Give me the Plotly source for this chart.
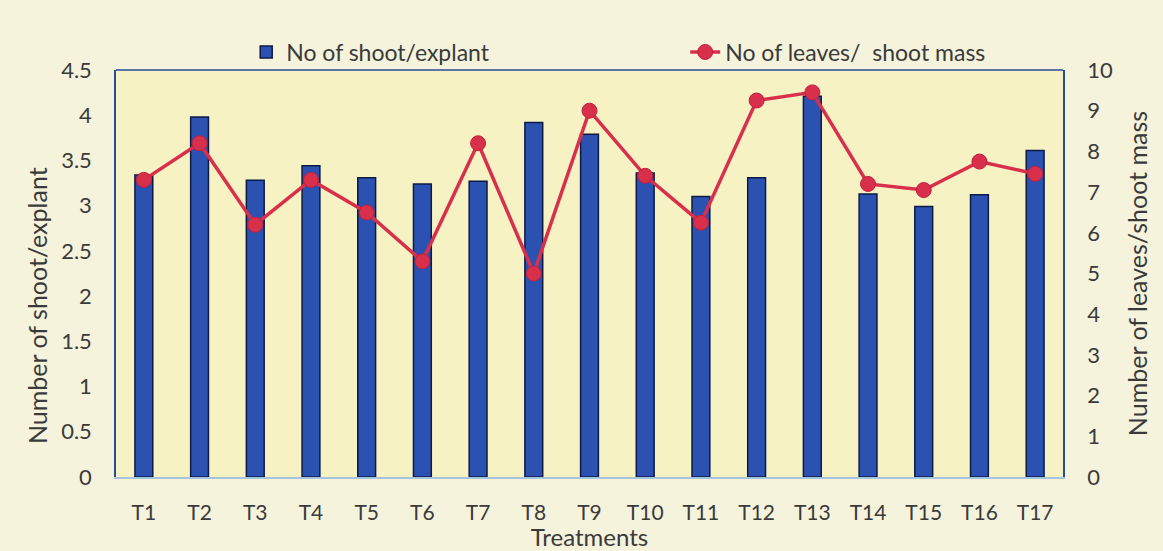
import plotly.graph_objects as go

treatments = ["T1","T2","T3","T4","T5","T6","T7","T8","T9","T10","T11","T12","T13","T14","T15","T16","T17"]
shoots_per_explant = [3.34,3.98,3.28,3.44,3.31,3.24,3.27,3.92,3.79,3.36,3.10,3.31,4.21,3.13,2.99,3.12,3.61]
leaves_per_shoot_mass = [7.3,8.2,6.2,7.3,6.5,5.3,8.2,5.0,9.0,7.4,6.25,9.25,9.45,7.2,7.05,7.75,7.45]
left_ticks = [0,0.5,1,1.5,2,2.5,3,3.5,4,4.5]
left_labels = ["0","0.5","1","1.5","2","2.5","3","3.5","4","4.5"]
right_ticks = list(range(0, 11))

FONT = "Lato"
TXT = "#3a3a3a"

fig = go.Figure()
fig.add_trace(go.Bar(
    x=treatments, y=shoots_per_explant, name="No of shoot/explant",
    marker=dict(color="#2b52b0", line=dict(color="#0d1a45", width=1.5)),
    width=0.32, yaxis="y",
))
fig.add_trace(go.Scatter(
    x=treatments, y=leaves_per_shoot_mass, name="No of leaves/  shoot mass",
    mode="lines+markers", yaxis="y2",
    line=dict(color="#d8304a", width=3.5),
    marker=dict(color="#d8304a", size=15, line=dict(color="#c02040", width=1)),
))

fig.update_layout(
    width=1163, height=551,
    margin=dict(l=116, r=100, t=70, b=74, autoexpand=False),
    paper_bgcolor="#f5f3dc",
    plot_bgcolor="#f7f2c4",
    font=dict(family=FONT, size=21, color=TXT),
    showlegend=True,
    legend=dict(orientation="h", xref="container", yref="container",
                x=0.2117, y=0.9056, xanchor="left", yanchor="middle",
                bgcolor="rgba(0,0,0,0)", font=dict(size=23, color=TXT),
                entrywidth=394, entrywidthmode="pixels"),
    xaxis=dict(
        title=dict(text="Treatments", font=dict(size=24, color=TXT), standoff=8),
        tickfont=dict(size=21, color=TXT), ticklabelstandoff=16,
        showline=True, linecolor="#a8c4dc", linewidth=2,
        showgrid=False, ticks="", range=[-0.5, 16.5], automargin=False,
    ),
    yaxis=dict(
        range=[0, 4.5], tickvals=left_ticks, ticktext=left_labels,
        tickfont=dict(size=22, color=TXT), ticklabelstandoff=18,
        showgrid=False, zeroline=False, showline=True, linecolor="#2a4a9a", linewidth=1.5,
        ticks="", automargin=False,
    ),
    yaxis2=dict(
        title=dict(text="Number of leaves/shoot mass", font=dict(size=25, color=TXT), standoff=18),
        overlaying="y", side="right", range=[0, 10], tickvals=right_ticks,
        tickfont=dict(size=22, color=TXT), ticklabelstandoff=18,
        showgrid=False, zeroline=False, showline=True, linecolor="#2a4a9a", linewidth=1.5,
        ticks="", automargin=False,
    ),
    annotations=[dict(text="Number of shoot/explant", xref="paper", yref="paper",
                      x=-0.0834, y=0.42, xanchor="center", yanchor="middle",
                      textangle=-90, showarrow=False, font=dict(size=25, color=TXT))],
    shapes=[dict(type="line", xref="paper", yref="paper", x0=0, x1=1, y0=1, y1=1,
                 line=dict(color="#2a4a9a", width=1.5))],
)

fig.write_html("out.html", config={"displayModeBar": False},
               post_script="document.body.style.margin='0';")
